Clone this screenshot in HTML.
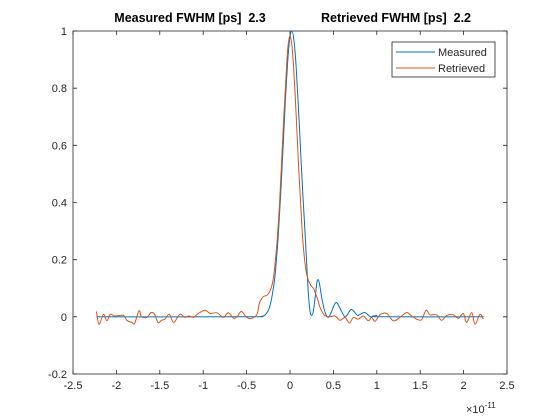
<!DOCTYPE html>
<html><head><meta charset="utf-8"><style>
html,body{margin:0;padding:0;background:#fff;}
svg{display:block;font-family:"Liberation Sans",Arial,sans-serif;}
</style></head><body>
<svg id="chart" width="560" height="420">
<rect x="0" y="0" width="560" height="420" fill="#fff"/>
<text x="190" y="22" text-anchor="middle" font-size="12.5" font-weight="bold">Measured FWHM [ps]&#160;&#160;2.3</text>
<text x="396" y="22" text-anchor="middle" font-size="12.5" font-weight="bold">Retrieved FWHM [ps]&#160;&#160;2.2</text>
<g id="axes"></g>
<g id="series"></g>
<g>
<rect x="392" y="42" width="103" height="35" fill="#fff" stroke="#262626" stroke-width="0.8"/>
<line x1="396" y1="52" x2="435" y2="52" stroke="#0072BD"/>
<text x="438" y="56" font-size="11" fill="#262626">Measured</text>
<line x1="396" y1="68" x2="435" y2="68" stroke="#D95319"/>
<text x="438" y="72" font-size="11" fill="#262626">Retrieved</text>
</g>
<text x="466" y="413" font-size="11" fill="#262626">×10<tspan dy="-5" font-size="8">-11</tspan></text>
</svg>
<script>
const xTicks=[-2.5,-2,-1.5,-1,-0.5,0,0.5,1,1.5,2,2.5];
const xTickLabels=["-2.5","-2","-1.5","-1","-0.5","0","0.5","1","1.5","2","2.5"];
const yTicks=[-0.2,0,0.2,0.4,0.6,0.8,1];
const yTickLabels=["-0.2","0","0.2","0.4","0.6","0.8","1"];
const measuredX=[-2.23,-0.5,-0.33,-0.28,-0.23,-0.18,-0.155,-0.13,-0.105,-0.08,-0.055,-0.03,-0.005,0.02,0.045,0.07,0.095,0.12,0.145,0.17,0.19,0.21,0.23,0.25,0.27,0.29,0.31,0.325,0.34,0.37,0.4,0.43,0.46,0.5,0.53,0.56,0.6,0.64,0.7,0.74,0.78,0.86,0.93,1.0,1.05,2.23];
const measuredY=[0,0,0.002,0.009,0.039,0.125,0.204,0.31,0.443,0.594,0.746,0.878,0.968,1.0,0.968,0.878,0.746,0.594,0.443,0.31,0.2,0.09,0.02,0.005,0.02,0.07,0.12,0.13,0.115,0.06,0.02,0,0.005,0.035,0.05,0.04,0.015,0,0.025,0.018,0.005,0.015,0,0.005,0,0];
const retrievedX=[-2.23,-2.2,-2.15,-2.11,-2.07,-2.02,-1.92,-1.88,-1.82,-1.79,-1.74,-1.71,-1.65,-1.6,-1.56,-1.52,-1.48,-1.44,-1.39,-1.34,-1.27,-1.21,-1.17,-1.11,-1.07,-0.98,-0.92,-0.84,-0.77,-0.71,-0.65,-0.61,-0.56,-0.5,-0.44,-0.38,-0.35,-0.31,-0.25,-0.2,-0.17,-0.14,-0.12,-0.1,-0.075,-0.05,-0.025,0,0.025,0.05,0.075,0.1,0.125,0.15,0.18,0.21,0.24,0.27,0.29,0.32,0.35,0.4,0.45,0.518,0.576,0.634,0.684,0.73,0.787,0.845,0.902,0.941,0.979,1.037,1.114,1.19,1.267,1.344,1.401,1.459,1.517,1.567,1.613,1.69,1.747,1.805,1.882,1.94,1.997,2.035,2.093,2.131,2.189,2.227];
const retrievedY=[0.019,-0.026,0.009,-0.014,0.009,0.003,0.005,-0.012,-0.02,-0.023,0.021,0,-0.002,0.015,0.009,-0.02,-0.012,-0.008,0.009,-0.02,0.009,-0.002,0.003,-0.002,0.009,0.023,0.012,0.014,-0.002,0.014,-0.005,0,0.019,-0.002,-0.005,0.009,0.05,0.07,0.08,0.12,0.19,0.3,0.4,0.52,0.68,0.82,0.94,0.985,0.94,0.83,0.68,0.52,0.38,0.26,0.17,0.13,0.11,0.1,0.085,0.06,0.03,0.005,0,0.003,-0.012,-0.002,-0.022,-0.002,-0.008,0.003,-0.014,-0.002,-0.016,0.007,0.012,-0.014,-0.002,0.015,0.003,-0.008,-0.01,0.023,0.007,0.007,-0.012,0.005,0.007,-0.005,0.012,-0.02,0.015,-0.026,0.009,-0.008];

const L=73,R=507,T=31,B=374;
const sx=v=>L+(v+2.5)/5*(R-L);
const sy=v=>B-(v+0.2)/1.2*(B-T);
const NS="http://www.w3.org/2000/svg";
const axes=document.getElementById('axes');
function mk(tag,attrs,parent){const e=document.createElementNS(NS,tag);for(const k in attrs)e.setAttribute(k,attrs[k]);parent.appendChild(e);return e;}
const box=mk('rect',{x:L,y:T,width:R-L,height:B-T,fill:'none',stroke:'#262626','stroke-width':0.8},axes);


xTicks.forEach((t,i)=>{
  const x=sx(t);
  const tk=mk('path',{d:`M${x},${B}V${B-4}M${x},${T}V${T+4}`,stroke:'#262626','stroke-width':0.8},axes);
  
  
  const lb=mk('text',{x:x,y:B+15,'text-anchor':'middle','font-size':11,fill:'#262626'},axes);
  lb.textContent=xTickLabels[i];
  
  
});
yTicks.forEach((t,i)=>{
  const y=sy(t);
  const tk=mk('path',{d:`M${L},${y}H${L+4}M${R},${y}H${R-4}`,stroke:'#262626','stroke-width':0.8},axes);
  
  
  const lb=mk('text',{x:L-6,y:y+4,'text-anchor':'end','font-size':11,fill:'#262626'},axes);
  lb.textContent=yTickLabels[i];
  
  
});
const series=document.getElementById('series');
function line(xs,ys,color,name){
  const pts=xs.map((x,i)=>[sx(x),sy(ys[i])]);
  let d='M'+pts[0][0].toFixed(1)+','+pts[0][1].toFixed(1);
  for(let i=0;i<pts.length-1;i++){
    const p0=pts[Math.max(0,i-1)],p1=pts[i],p2=pts[i+1],p3=pts[Math.min(pts.length-1,i+2)];
    const c1x=p1[0]+(p2[0]-p0[0])/6,c1y=p1[1]+(p2[1]-p0[1])/6;
    const c2x=p2[0]-(p3[0]-p1[0])/6,c2y=p2[1]-(p3[1]-p1[1])/6;
    d+=`C${c1x.toFixed(1)},${c1y.toFixed(1)} ${c2x.toFixed(1)},${c2y.toFixed(1)} ${p2[0].toFixed(1)},${p2[1].toFixed(1)}`;
  }
  const p=mk('path',{d:d,fill:'none',stroke:color,'stroke-width':1,'stroke-linejoin':'round'},series);
  
  
}
line(measuredX,measuredY,'#0072BD','measured-line');
line(retrievedX,retrievedY,'#D95319','retrieved-line');
</script>
</body></html>
